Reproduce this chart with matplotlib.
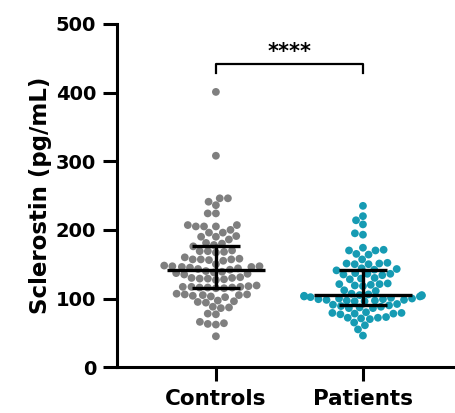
import numpy as np
import pandas as pd
import matplotlib
matplotlib.use("Agg")
import matplotlib.pyplot as plt
import seaborn as sns

# sclerostin values (pg/mL)
controls = [401, 308,
            246, 246, 241, 236,
            224, 224,
            207, 207, 205, 205, 205, 200,
            196, 196, 191, 190, 190, 186,
            181, 180, 178, 176,
            170, 169, 169, 168, 167,
            160, 158, 157, 157, 157, 156, 155,
            150, 148, 147, 147, 146, 146, 145, 144, 143, 142,
            140, 139, 138, 137, 136, 135,
            131, 130, 130, 129, 129, 128, 127,
            119, 118, 117, 117, 117, 116, 116, 116, 115, 115,
            107, 106, 106, 105, 105, 104, 103, 102,
            97, 96, 95, 94,
            88, 87, 86,
            78, 77,
            66, 64, 63, 62,
            45]
patients = [235, 220, 214, 208, 195, 193,
            174, 171, 170, 170, 165, 164, 157,
            152, 151, 151, 150, 150,
            144, 143, 142, 141,
            137, 136, 136, 135, 134,
            130, 129, 128,
            122, 121, 121, 120, 119, 118,
            112, 111,
            107, 106, 105, 105, 104, 104, 103, 103, 102,
            101, 100, 100, 99, 99, 98, 98, 97, 97, 96, 96,
            92, 91, 90, 89, 88, 87, 86, 86,
            80, 79, 79, 78, 78, 77,
            73, 72, 72, 71, 70,
            65, 61, 55, 46]
groups = ["Controls", "Patients"]
colors = ["#7f7f7f", "#169bb3"]
yticks = [0, 100, 200, 300, 400, 500]

df = pd.DataFrame({
    "group": ["Controls"] * len(controls) + ["Patients"] * len(patients),
    "value": controls + patients,
})

plt.rcParams["font.family"] = "DejaVu Sans"
plt.rcParams["font.weight"] = "bold"

fig = plt.figure(figsize=(4.55, 4.13), dpi=100)
ax = fig.add_axes([0.257, 0.111, 0.743, 0.831])

sns.swarmplot(data=df, x="group", y="value", hue="group", palette=colors,
              order=groups, size=5.6, linewidth=0, legend=False, ax=ax, zorder=2)

# median with interquartile range
for i, vals in enumerate([controls, patients]):
    q1, med, q3 = np.percentile(vals, [25, 50, 75])
    ax.plot([i - 0.335, i + 0.335], [med, med], color="black", lw=2.4, zorder=4,
            solid_capstyle="butt")
    ax.plot([i, i], [q1, q3], color="black", lw=2.4, zorder=4)
    for q in (q1, q3):
        ax.plot([i - 0.165, i + 0.165], [q, q], color="black", lw=2.4, zorder=4,
                solid_capstyle="butt")

# significance bracket
ax.plot([0, 0, 1, 1], [429, 442, 442, 429], color="black", lw=1.6,
        clip_on=False)
ax.text(0.5, 444, "****", ha="center", va="bottom", fontsize=15,
        fontweight="bold")

ax.set_xlim(-0.673, 1.626)
ax.set_ylim(0, 500)
ax.set_yticks(yticks)
ax.set_xlabel("")
ax.set_ylabel("Sclerostin (pg/mL)", fontsize=16.5, fontweight="bold",
              labelpad=3)

for s in ["top", "right"]:
    ax.spines[s].set_visible(False)
for s in ["left", "bottom"]:
    ax.spines[s].set_linewidth(2.2)
ax.tick_params(axis="y", width=2.2, length=10, labelsize=14, pad=5)
ax.tick_params(axis="x", width=2.2, length=10, labelsize=15.5, pad=6)
for lab in ax.get_xticklabels() + ax.get_yticklabels():
    lab.set_fontweight("bold")

fig.savefig("out.png", dpi=100)
